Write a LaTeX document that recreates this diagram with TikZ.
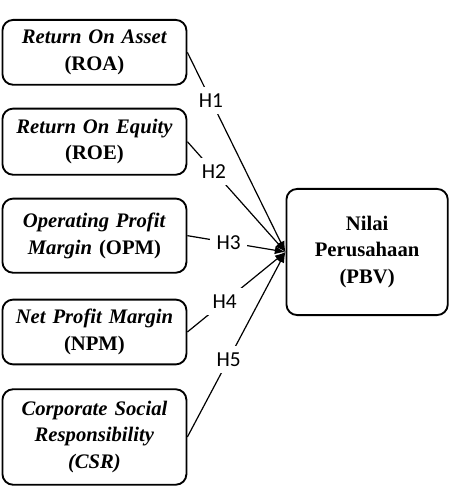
\documentclass[tikz,border=0pt]{standalone}
\usepackage{fontspec}
\setmainfont{Liberation Serif}
\newfontfamily\labelfont{Carlito}
\usetikzlibrary{positioning,arrows.meta}

\begin{document}
\begin{tikzpicture}[
    x=0.75pt, y=-0.75pt,
    node distance=16.5pt,
    varbox/.style={rectangle, draw, line width=1.4pt, rounded corners=8pt,
                   text width=134pt, align=center, inner sep=2pt,
                   font=\fontsize{15.5}{20}\selectfont\bfseries},
    hlabel/.style={fill=white, inner sep=5pt,
                   font=\labelfont\fontsize{16}{18}\selectfont},
    link/.style={line width=0.9pt, -{Latex[length=8pt,width=6pt]}}
]
\useasboundingbox (0,0) rectangle (451,491);

% variabel independen
\node[varbox, minimum height=48.6pt, anchor=north west] (roa) at (1.5,19)
    {\textit{Return On Asset}\\(ROA)};
\node[varbox, minimum height=49.6pt, below=16.5pt of roa] (roe)
    {\textit{Return On Equity}\\(ROE)};
\node[varbox, minimum height=55.6pt, below=16.5pt of roe] (opm)
    {\textit{Operating Profit}\\\textit{Margin} (OPM)};
\node[varbox, minimum height=48.6pt, below=18.75pt of opm] (npm)
    {\textit{Net Profit Margin}\\(NPM)};
\node[varbox, minimum height=71.6pt, below=17.25pt of npm] (csr)
    {\textit{Corporate Social}\\\textit{Responsibility}\\\textit{(CSR)}};

% variabel dependen
\node[varbox, text width=117pt, minimum height=94.6pt, anchor=north west] (pbv)
    at (285.5,188) {Nilai\\Perusahaan\\(PBV)};

\draw[link] (roa.east) -- node[hlabel, pos=0.24] {H1} (pbv.west);
\draw[link] (roe.east) -- node[hlabel, pos=0.27] {H2} (pbv.west);
\draw[link] (opm.east) -- node[hlabel, pos=0.42] {H3} (pbv.west);
\draw[link] (npm.east) -- node[hlabel, pos=0.38] {H4} (pbv.west);
\draw[link] (csr.east) -- node[hlabel, pos=0.42] {H5} (pbv.west);
\end{tikzpicture}
\end{document}
